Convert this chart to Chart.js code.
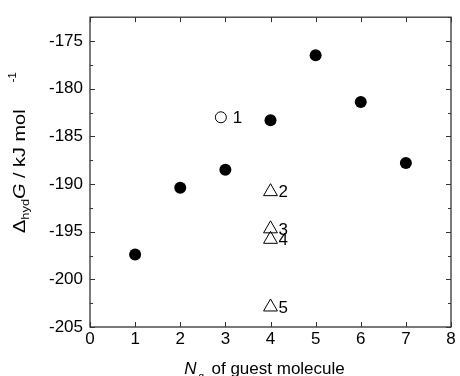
<!DOCTYPE html>
<html>
<head>
<meta charset="utf-8">
<script src="https://cdn.jsdelivr.net/npm/chart.js@4.4.1/dist/chart.umd.min.js"></script>
<style>
  html, body { margin: 0; padding: 0; background: #fff; }
  canvas { display: block; }
</style>
</head>
<body>
<canvas id="chart" width="460" height="376"></canvas>
<script>
// axis ticks
const xTicks = [0, 1, 2, 3, 4, 5, 6, 7, 8];
const yTicks = [-205, -200, -195, -190, -185, -180, -175];
const yMinor = [-202.5, -197.5, -192.5, -187.5, -182.5, -177.5, -172.5];

// filled circles
const solidN = [1, 2, 3, 4, 5, 6, 7];
const solidG = [-197.4, -190.4, -188.5, -183.3, -176.5, -181.4, -187.8];

// open circle (1)
const openN = [2.9];
const openG = [-183.0];
const openLabels = ['1'];

// triangles (2-5)
const triN = [4, 4, 4, 4];
const triG = [-190.8, -194.7, -195.8, -202.9];
const triLabels = ['2', '3', '4', '5'];

const FONT = '"Liberation Sans", Arial, sans-serif';

const toPoints = (xs, ys) => xs.map((x, i) => ({ x: x, y: ys[i] }));

// frame with inward ticks on all four sides
const framePlugin = {
    id: 'frame',
    afterDatasetsDraw(chart) {
        const { ctx, chartArea: a, scales } = chart;
        ctx.save();
        ctx.strokeStyle = '#333';
        ctx.lineWidth = 1.3;
        ctx.strokeRect(a.left, a.top, a.right - a.left, a.bottom - a.top);
        ctx.lineWidth = 1;
        ctx.beginPath();
        xTicks.forEach(v => {
            const px = Math.round(scales.x.getPixelForValue(v)) + 0.5;
            ctx.moveTo(px, a.bottom); ctx.lineTo(px, a.bottom - 5);
            ctx.moveTo(px, a.top); ctx.lineTo(px, a.top + 5);
        });
        yTicks.forEach(v => {
            const py = Math.round(scales.y.getPixelForValue(v)) + 0.5;
            ctx.moveTo(a.left, py); ctx.lineTo(a.left + 5, py);
            ctx.moveTo(a.right, py); ctx.lineTo(a.right - 5, py);
        });
        yMinor.forEach(v => {
            const py = Math.round(scales.y.getPixelForValue(v)) + 0.5;
            ctx.moveTo(a.left, py); ctx.lineTo(a.left + 3, py);
            ctx.moveTo(a.right, py); ctx.lineTo(a.right - 3, py);
        });
        ctx.stroke();
        ctx.restore();
    }
};

// number labels beside the open circle and triangles
const labelPlugin = {
    id: 'pointLabels',
    afterDatasetsDraw(chart) {
        const ctx = chart.ctx;
        ctx.save();
        ctx.fillStyle = '#000';
        ctx.font = '17px ' + FONT;
        ctx.textBaseline = 'middle';
        ctx.textAlign = 'left';
        chart.getDatasetMeta(1).data.forEach((p, i) => ctx.fillText(openLabels[i], p.x + 12, p.y + 1));
        chart.getDatasetMeta(2).data.forEach((p, i) => ctx.fillText(triLabels[i], p.x + 8, p.y + 1));
        ctx.restore();
    }
};

// axis titles with sub/superscripts
const titlePlugin = {
    id: 'titles',
    afterDraw(chart) {
        const ctx = chart.ctx;
        const a = chart.chartArea;
        ctx.save();
        ctx.fillStyle = '#000';
        ctx.textBaseline = 'alphabetic';

        // x title
        const big = '17px ' + FONT, bigI = 'italic 17px ' + FONT, small = '10px ' + FONT;
        ctx.font = bigI;
        const wN = ctx.measureText('N').width;
        ctx.font = big;
        const rest = 'of guest molecule';
        const wR = ctx.measureText(rest).width;
        const gap = 15;
        const x = (a.left + a.right) / 2 - 6 - (wN + gap + wR) / 2;
        const by = 374;
        ctx.font = bigI; ctx.fillText('N', x, by);
        ctx.font = small; ctx.fillText('g', x + wN + 2, by + 6);
        ctx.font = big; ctx.fillText(rest, x + wN + gap, by);

        // y title, rotated and a little stretched
        ctx.translate(25, 233);
        ctx.rotate(-Math.PI / 2);
        ctx.scale(1.17, 1);
        let t = 0;
        const part = (s, f, dy) => { ctx.font = f; ctx.fillText(s, t, dy); t += ctx.measureText(s).width; };
        part('\u0394', '17px ' + FONT, 0);
        part('hyd', '11px ' + FONT, 4);
        part('G', 'italic 17px ' + FONT, 0);
        part(' / kJ mol', '17px ' + FONT, 0);
        t += 23;
        part('-1', '10px ' + FONT, -9);
        ctx.restore();
    }
};

new Chart(document.getElementById('chart'), {
    type: 'scatter',
    data: {
        datasets: [
            {
                data: toPoints(solidN, solidG),
                pointStyle: 'circle',
                pointRadius: 6,
                backgroundColor: '#000',
                borderColor: '#000',
                borderWidth: 0
            },
            {
                data: toPoints(openN, openG),
                pointStyle: 'circle',
                pointRadius: 5.5,
                backgroundColor: '#fff',
                borderColor: '#000',
                borderWidth: 1
            },
            {
                data: toPoints(triN, triG),
                pointStyle: 'triangle',
                pointRadius: 8,
                backgroundColor: 'rgba(255,255,255,0)',
                borderColor: '#000',
                borderWidth: 1
            }
        ]
    },
    options: {
        responsive: false,
        animation: false,
        devicePixelRatio: 1,
        layout: { padding: { top: 14, right: 6, left: 0, bottom: 0 } },
        plugins: {
            legend: { display: false },
            tooltip: { enabled: false }
        },
        scales: {
            x: {
                type: 'linear',
                min: 0,
                max: 8,
                afterBuildTicks: s => { s.ticks = xTicks.map(v => ({ value: v })); },
                afterFit: s => { s.height = 49; },
                grid: { display: false, drawTicks: false },
                border: { display: false },
                ticks: {
                    color: '#000',
                    font: { family: FONT, size: 17 },
                    padding: 2,
                    maxRotation: 0,
                    autoSkip: false
                }
            },
            y: {
                type: 'linear',
                min: -205,
                max: -172.5,
                afterBuildTicks: s => { s.ticks = yTicks.map(v => ({ value: v })); },
                afterFit: s => { s.width = 90; },
                grid: { display: false, drawTicks: false },
                border: { display: false },
                ticks: {
                    color: '#000',
                    font: { family: FONT, size: 17 },
                    padding: 7,
                    autoSkip: false,
                    callback: v => String(v)
                }
            }
        }
    },
    plugins: [framePlugin, labelPlugin, titlePlugin]
});
</script>
</body>
</html>
